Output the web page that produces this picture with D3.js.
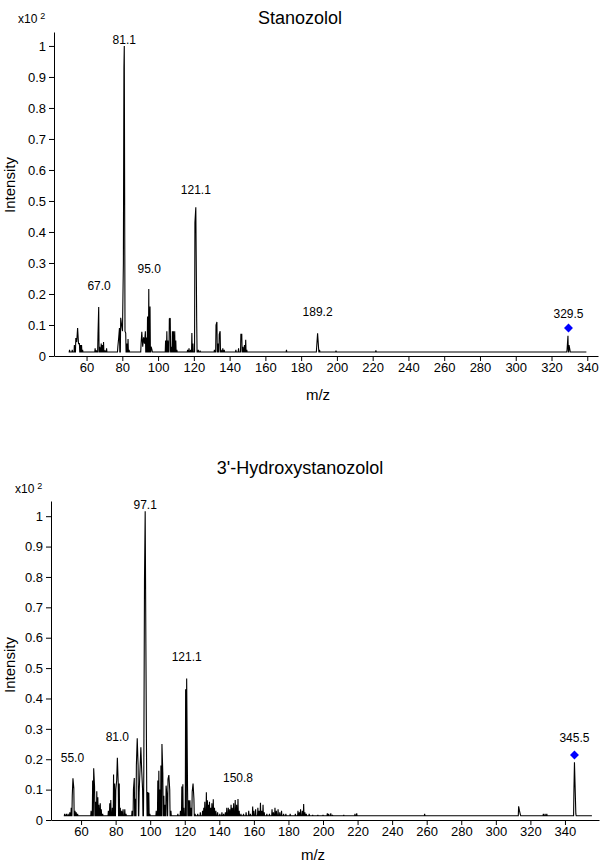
<!DOCTYPE html>
<html>
<head>
<meta charset="utf-8">
<script src="https://cdn.jsdelivr.net/npm/d3@7"></script>
<style>
  html, body { margin: 0; padding: 0; background: #fff; }
  svg { display: block; }
  text { font-family: "Liberation Sans", Arial, sans-serif; fill: #000; }
</style>
</head>
<body>
<svg id="chart" width="600" height="864"></svg>
<script>
// ---------------- DATA ----------------
const xTicks = [60, 80, 100, 120, 140, 160, 180, 200, 220, 240, 260, 280, 300, 320, 340];
const yTicks = [0, 0.1, 0.2, 0.3, 0.4, 0.5, 0.6, 0.7, 0.8, 0.9, 1];

// Stanozolol spectrum: [m/z, intensity (x10^2)]
const stanoRange = [50, 339.5];
const stanoBase = 0.013;
const stanoPeaks = [
  [50.5,0.02],[52,0.02],[53.2,0.035],[54.0,0.058],[54.5,0.045],[55.0,0.09],[55.5,0.04],[56.0,0.04],[56.6,0.035],[57.2,0.035],[57.8,0.02],
  [64.8,0.025],[65.5,0.018],[66.4,0.07],[66.8,0.158],[67.4,0.03],[68.2,0.04],[68.8,0.035],[69.5,0.045],[70.3,0.018],[71.2,0.025],
  [77.5,0.03],[78.0,0.06],[78.4,0.09],[79.1,0.123],[79.6,0.1],[80.1,0.08],[80.6,0.3],[80.9,0.93],[81.1,1.0],[81.5,0.08],[81.9,0.074],[82.5,0.04],[83.2,0.055],[83.8,0.02],
  [90.5,0.04],[90.9,0.078],[91.4,0.03],[91.9,0.06],[92.4,0.04],[92.9,0.08],[93.5,0.06],[94.1,0.127],[94.8,0.216],[95.5,0.16],[96.1,0.03],[96.6,0.02],
  [104.2,0.05],[104.9,0.08],[105.5,0.05],[106.3,0.12],[106.8,0.122],[107.4,0.03],[108.0,0.08],[108.6,0.08],[109.3,0.08],[109.9,0.05],[110.5,0.02],
  [116.5,0.02],[117.3,0.025],[118.2,0.02],[118.9,0.074],[119.5,0.04],[120.6,0.43],[121.1,0.48],[121.6,0.11],[122.5,0.02],[123.5,0.017],
  [131.5,0.02],[132.4,0.10],[132.9,0.11],[133.5,0.04],[134.2,0.07],[134.7,0.08],[135.3,0.02],[136.2,0.025],[137.0,0.02],
  [143.5,0.02],[145.0,0.025],[146.3,0.07],[146.8,0.07],[147.5,0.03],[148.3,0.035],[149.0,0.052],[149.6,0.02],
  [171.8,0.02],[188.7,0.03],[189.2,0.073],[189.7,0.03],[190.3,0.02],[199.5,0.017],[221.8,0.018],
  [328.7,0.02],[329.2,0.065],[329.8,0.035],[330.3,0.02]
];
const stanoLabels = ["81.1", "67.0", "95.0", "121.1", "189.2", "329.5"];
const stanoLabelHeights = [1.006, 0.213, 0.268, 0.523, 0.129, 0.123];
const stanoMarker = [329.5, 0.09];

// 3'-Hydroxystanozolol spectrum
const hydroRange = [50, 355.6];
const hydroBase = 0.014;
const hydroPeaks = [
  [50.5,0.02],[51.5,0.02],[52.5,0.02],[53.5,0.025],[54.3,0.04],[54.9,0.08],[55.3,0.137],[55.8,0.105],[56.5,0.03],[57.2,0.025],[58.0,0.02],
  [65.8,0.03],[66.7,0.13],[67.3,0.17],[67.8,0.11],[68.4,0.06],[69.1,0.095],[69.7,0.075],[70.3,0.05],[71.1,0.055],[71.7,0.035],[72.5,0.02],
  [75.8,0.03],[76.6,0.055],[77.2,0.066],[78.1,0.04],[78.8,0.15],[79.4,0.12],[80.1,0.1],[80.6,0.13],[81.0,0.205],[81.5,0.12],[82.1,0.12],[82.7,0.04],[83.5,0.03],[84.3,0.035],[85.3,0.035],[86.0,0.02],
  [89.5,0.03],[90.3,0.1],[90.8,0.138],[91.4,0.07],[92.0,0.18],[92.5,0.269],[93.0,0.18],[93.6,0.09],[94.1,0.165],[94.6,0.239],[95.1,0.16],[95.6,0.1],[96.3,0.16],[96.7,0.79],[97.1,1.016],[97.5,0.58],[98.0,0.09],[98.6,0.092],[99.2,0.09],[99.8,0.02],
  [103.5,0.03],[104.4,0.13],[105.0,0.162],[105.6,0.1],[106.2,0.179],[106.8,0.25],[107.3,0.155],[107.9,0.08],[108.5,0.05],[109.2,0.113],[109.7,0.08],[110.3,0.135],[110.8,0.148],[111.3,0.1],[112.0,0.03],
  [116.0,0.02],[117.5,0.03],[118.3,0.11],[118.9,0.118],[119.5,0.04],[120.5,0.43],[121.1,0.466],[121.6,0.11],[122.3,0.065],[123.0,0.065],[123.6,0.04],[124.3,0.093],[124.8,0.12],[125.3,0.07],[126.0,0.02],
  [127.5,0.02],[129.0,0.025],[130.3,0.03],[131.0,0.04],[131.6,0.06],[132.5,0.091],[133.1,0.065],[133.7,0.05],[134.3,0.06],[135.0,0.04],[135.7,0.055],[136.5,0.068],[137.2,0.04],[138.0,0.03],[139.0,0.025],[140.3,0.02],[141.5,0.025],[142.5,0.02],
  [143.5,0.025],[144.3,0.04],[145.2,0.04],[146.0,0.035],[146.8,0.05],[147.5,0.04],[148.3,0.055],[149.2,0.066],[150.0,0.05],[150.8,0.069],[151.5,0.03],[152.5,0.02],
  [154.0,0.02],[155.5,0.025],[157.0,0.03],[158.0,0.02],[159.3,0.044],[160.0,0.03],[161.0,0.035],[162.3,0.04],[163.0,0.03],[163.8,0.057],[164.5,0.03],[165.3,0.05],[166.0,0.025],[167.5,0.02],
  [169.0,0.02],[170.5,0.035],[171.3,0.025],[172.2,0.04],[173.0,0.03],[174.0,0.035],[175.0,0.025],[176.0,0.03],[177.2,0.02],[178.5,0.02],
  [181.0,0.02],[184.0,0.02],[185.5,0.03],[186.3,0.025],[187.0,0.035],[188.0,0.03],[188.8,0.053],[189.5,0.025],[190.3,0.02],[192.0,0.02],[194.0,0.017],[197.0,0.017],[200.0,0.017],
  [202.5,0.022],[203.3,0.02],[204.5,0.022],[205.5,0.017],[212.0,0.017],[218.5,0.02],[219.5,0.022],[258.8,0.02],
  [313.2,0.045],[313.7,0.03],[314.2,0.018],[327.5,0.02],[328.5,0.02],[329.5,0.02],
  [345.2,0.1],[345.5,0.19],[345.8,0.126],[346.3,0.02]
];
const hydroLabels = ["55.0", "81.0", "97.1", "121.1", "150.8", "345.5"];
const hydroLabelHeights = [0.191, 0.26, 1.023, 0.523, 0.125, 0.257];
const hydroMarker = [345.5, 0.214];

// ---------------- DRAW ----------------
const svg = d3.select("#chart");

function panel(cfg) {
  const g = svg.append("g");
  const x = d3.scaleLinear().domain(cfg.xDomain).range(cfg.xRange);
  const y = d3.scaleLinear().domain(cfg.yDomain).range(cfg.yRange);

  // title
  g.append("text").attr("x", 300).attr("y", cfg.titleY)
    .attr("text-anchor", "middle").style("font-size", "18px").text(cfg.title);

  // multiplier
  const mt = g.append("text").attr("x", cfg.multX).attr("y", cfg.multY).style("font-size", "12px");
  mt.append("tspan").text("x10");
  mt.append("tspan").attr("dx", 3).attr("dy", -4).style("font-size", "9px").text("2");

  // y axis
  const ya = g.append("g").attr("transform", `translate(${cfg.xRange[0]},0)`)
    .call(d3.axisLeft(y).tickValues(yTicks).tickFormat(d3.format("~g")).tickSize(5).tickPadding(3).tickSizeOuter(0));
  // x axis
  const xa = g.append("g").attr("transform", `translate(0,${cfg.yRange[0]})`)
    .call(d3.axisBottom(x).tickValues(xTicks).tickFormat(d3.format("d")).tickSize(5).tickPadding(2).tickSizeOuter(0));
  [ya, xa].forEach(a => {
    a.selectAll("text").style("font-size", "13px").style("font-family", "'Liberation Sans', Arial, sans-serif").attr("fill", "#000");
    a.selectAll("line,path").attr("stroke", "#000");
  });

  // axis titles
  g.append("text").attr("transform", `translate(${cfg.ylabX},${cfg.ylabY}) rotate(-90)`)
    .attr("text-anchor", "middle").style("font-size", "15px").text("Intensity");
  g.append("text").attr("x", cfg.xlabX).attr("y", cfg.xlabY)
    .attr("text-anchor", "middle").style("font-size", "15px").text("m/z");

  // spectrum profile: baseline between peaks, narrow spikes at each peak
  const pts = [[cfg.range[0], cfg.base]];
  const hw = 0.2;
  let prev = -Infinity;
  cfg.peaks.forEach(([m, v]) => {
    if (m - prev > 2 * hw + 0.1) {
      if (prev > -Infinity) pts.push([prev + hw, cfg.base]);
      pts.push([m - hw, cfg.base]);
    }
    pts.push([m, v]);
    prev = m;
  });
  pts.push([prev + hw, cfg.base]);
  pts.push([cfg.range[1], cfg.base]);

  g.append("path").datum(pts)
    .attr("fill", "none").attr("stroke", "#000").attr("stroke-width", 1.1)
    .attr("stroke-linejoin", "miter").attr("stroke-miterlimit", 2)
    .attr("d", d3.line().x(d => x(d[0])).y(d => y(d[1])));

  // peak labels
  g.selectAll(".plabel").data(cfg.labels.map((t, i) => [t, cfg.labelHeights[i]]))
    .join("text").attr("class", "plabel")
    .attr("x", d => x(+d[0])).attr("y", d => y(d[1]))
    .attr("text-anchor", "middle").style("font-size", "12px").text(d => d[0]);

  // precursor marker
  g.append("path")
    .attr("d", d3.symbol().type(d3.symbolSquare).size(40)())
    .attr("transform", `translate(${x(cfg.marker[0])},${y(cfg.marker[1])}) rotate(45)`)
    .attr("fill", "#0000ff");
}

panel({
  title: "Stanozolol", titleY: 24,
  multX: 18, multY: 23,
  xDomain: [41.8, 346], xRange: [54, 598],
  yDomain: [0, 1.045], yRange: [356, 32],
  ylabX: 15, ylabY: 185, xlabX: 318, xlabY: 400,
  range: stanoRange, base: stanoBase, peaks: stanoPeaks,
  labels: stanoLabels, labelHeights: stanoLabelHeights, marker: stanoMarker
});

panel({
  title: "3'-Hydroxystanozolol", titleY: 474,
  multX: 15, multY: 493,
  xDomain: [42.6, 359.7], xRange: [51, 599],
  yDomain: [0, 1.05], yRange: [820, 501],
  ylabX: 15, ylabY: 665, xlabX: 313, xlabY: 860,
  range: hydroRange, base: hydroBase, peaks: hydroPeaks,
  labels: hydroLabels, labelHeights: hydroLabelHeights, marker: hydroMarker
});
</script>
</body>
</html>
